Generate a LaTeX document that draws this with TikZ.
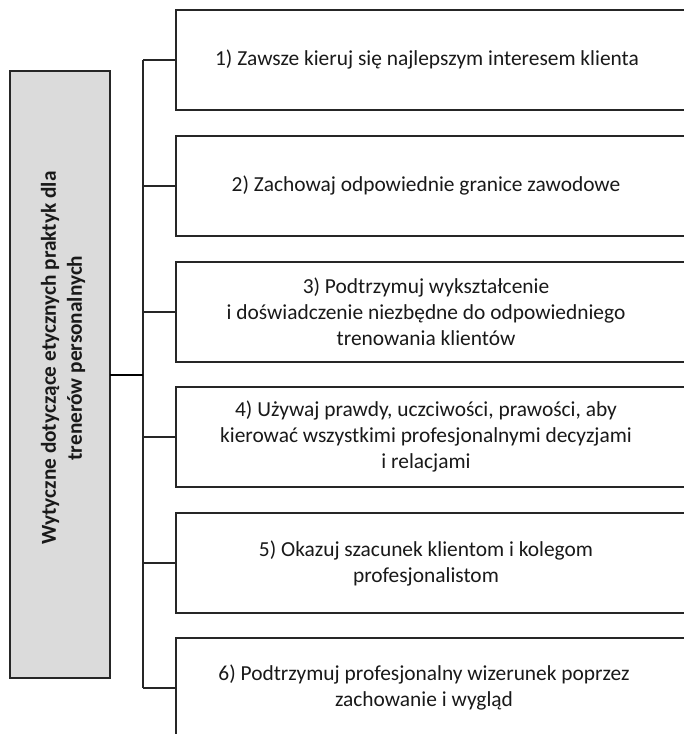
\documentclass[tikz,border=0pt]{standalone}
\usepackage{fontspec}
\setmainfont{Carlito}
\begin{document}
\begin{tikzpicture}[x=1pt,y=-1pt,
  every node/.style={inner sep=0pt, outer sep=0pt},
  itembox/.style={draw=black!85, line width=1.2pt, fill=white, minimum width=520pt, minimum height=100pt, anchor=north west},
  itemtext/.style={align=center, font=\fontsize{21.4}{26}\selectfont, text=black!90},
  mainbox/.style={draw=black!85, line width=1.2pt, fill=gray!28, minimum width=100pt, minimum height=607pt, anchor=north west},
  maintext/.style={align=center, font=\fontsize{21.3}{26}\selectfont\bfseries, rotate=90, text=black!90},
  link/.style={draw=black!85, line width=1.2pt},
  mainlink/.style={draw=black, line width=2pt}]
\useasboundingbox (0,0) rectangle (684,734);
\clip (0,0) rectangle (684,734);
\fill[white] (0,0) rectangle (684,734);
% main box
\node[mainbox] (m) at (10,71) {};
\node[maintext] (mt) at (63,358) {Wytyczne dotyczące etycznych praktyk dla\\trenerów personalnych};
% item boxes
\node[itembox] (b1) at (176,10) {};
\node[itembox] (b2) at (176,136) {};
\node[itembox] (b3) at (176,262) {};
\node[itembox] (b4) at (176,387) {};
\node[itembox] (b5) at (176,513) {};
\node[itembox] (b6) at (176,638) {};
\node[itemtext] (t1) at (427,60) {1) Zawsze kieruj się najlepszym interesem klienta};
\node[itemtext] (t2) at (426,186) {2) Zachowaj odpowiednie granice zawodowe};
\node[itemtext] (t3) at (426,312) {3) Podtrzymuj wykształcenie\\i doświadczenie niezbędne do odpowiedniego\\trenowania klientów};
\node[itemtext] (t4) at (426,437) {4) Używaj prawdy, uczciwości, prawości, aby\\kierować wszystkimi profesjonalnymi decyzjami\\i relacjami};
\node[itemtext] (t5) at (426,563) {5) Okazuj szacunek klientom i kolegom\\profesjonalistom};
\node[itemtext] (t6) at (424,688) {6) Podtrzymuj profesjonalny wizerunek poprzez\\zachowanie i wygląd};
% connectors
\coordinate (top) at (143,60);
\coordinate (bot) at (143,688);
\coordinate (mid) at (143,375);
\draw[link] (top) -- (bot);
\draw[mainlink] (m.east |- mid) -- (mid);
\foreach \b in {b1,b2,b3,b4,b5,b6}{
  \draw[link] (\b.west) -- (\b.west -| top);
}
\end{tikzpicture}
\end{document}
